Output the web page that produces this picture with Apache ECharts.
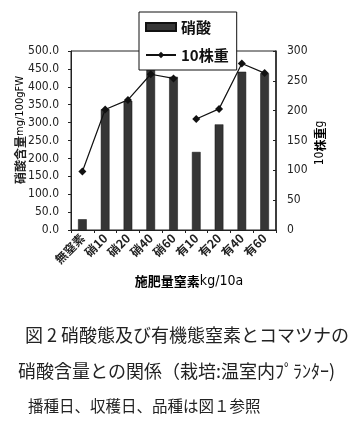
<!DOCTYPE html>
<html>
<head>
<meta charset="utf-8">
<script src="https://cdn.jsdelivr.net/npm/echarts@6/dist/echarts.min.js"></script>
<style>
html,body{margin:0;padding:0;background:#fff;}
#c{width:361px;height:431px;}
</style>
</head>
<body>
<div id="c"></div>
<script>
var categories = ['無窒素','硝10','硝20','硝40','硝60','有10','有20','有40','有60'];
var nitrate = [30, 337, 361, 452, 428, 218, 295, 442, 438];
var weightNitrateForm = [98, 202, 218, 261, 254, null, null, null, null];
var weightOrganicForm = [null, null, null, null, null, 186, 203, 279, 263];
var leftAxisRange = [0, 500, 50];
var rightAxisRange = [0, 300, 50];
var seriesNames = ['硝酸', '10株重'];
var leftAxisTitle = ['硝酸含量', 'mg/100gFW'];
var rightAxisTitle = ['10', '株重', 'g'];
var xAxisTitle = ['施肥量窒素', 'kg/10a'];
var captionLines = ['図 2 硝酸態及び有機態窒素とコマツナの', '硝酸含量との関係（栽培:温室内ﾌﾟﾗﾝﾀｰ)', '播種日、収穫日、品種は図１参照'];

var NARROW = "'Liberation Sans Narrow','Arial Narrow','DejaVu Sans Condensed','Liberation Sans',sans-serif";
var CJK = "'Noto Sans CJK JP','Liberation Sans',sans-serif";

var chart = echarts.init(document.getElementById('c'), null, {renderer: 'canvas'});
var option = {
  animation: false,
  backgroundColor: '#fff',
  grid: {left: 71, right: 85, top: 51, bottom: 201, show: true, borderColor: '#222', borderWidth: 1, backgroundColor: 'transparent'},
  legend: {
    orient: 'vertical', left: 139, top: 12,
    backgroundColor: '#fff', borderColor: '#111', borderWidth: 1,
    padding: [6, 8, 6, 6], itemGap: 10, itemWidth: 30, itemHeight: 8,
    textStyle: {fontFamily: CJK, fontSize: 15, color: '#111', fontWeight: 'bold', lineHeight: 18},
    data: [{name: seriesNames[0], icon: 'rect'}, {name: seriesNames[1]}]
  },
  xAxis: {
    type: 'category', data: categories,
    axisLine: {lineStyle: {color: '#222'}},
    axisTick: {show: true, length: 3, lineStyle: {color: '#222'}},
    axisLabel: {rotate: 45, margin: 6, fontFamily: CJK, fontSize: 12, fontWeight: 'bold', color: '#222', interval: 0}
  },
  yAxis: [{
    type: 'value', min: leftAxisRange[0], max: leftAxisRange[1], interval: leftAxisRange[2],
    position: 'left',
    splitLine: {show: false},
    axisLine: {show: true, lineStyle: {color: '#222'}},
    axisTick: {show: true, length: 3, lineStyle: {color: '#222'}},
    axisLabel: {margin: 12, fontFamily: NARROW, fontSize: 12, color: '#222', formatter: function (v) { return v.toFixed(1); }}
  }, {
    type: 'value', min: rightAxisRange[0], max: rightAxisRange[1], interval: rightAxisRange[2],
    position: 'right',
    splitLine: {show: false},
    axisLine: {show: true, lineStyle: {color: '#222', width: 1.5}},
    axisTick: {show: true, length: 3, inside: true, lineStyle: {color: '#222'}},
    axisLabel: {margin: 11, fontFamily: NARROW, fontSize: 12, color: '#222'}
  }],
  series: [{
    name: seriesNames[0], type: 'bar', yAxisIndex: 0, data: nitrate, barWidth: '38%',
    itemStyle: {color: '#363636', borderColor: '#111', borderWidth: 0.5}
  }, {
    name: seriesNames[1], type: 'line', yAxisIndex: 1, data: weightNitrateForm,
    symbol: 'diamond', symbolSize: 8, connectNulls: false,
    lineStyle: {color: '#111', width: 1.2}, itemStyle: {color: '#111'}
  }, {
    name: seriesNames[1], type: 'line', yAxisIndex: 1, data: weightOrganicForm,
    symbol: 'diamond', symbolSize: 8, connectNulls: false,
    lineStyle: {color: '#111', width: 1.2}, itemStyle: {color: '#111'}
  }],
  graphic: [
    {type: 'text', x: 20, y: 130, rotation: Math.PI / 2,
     style: {text: '{a|' + leftAxisTitle[0] + '}{b|' + leftAxisTitle[1] + '}', align: 'center', verticalAlign: 'middle',
       rich: {a: {fontFamily: CJK, fontSize: 12, fontWeight: 'bold', fill: '#222', color: '#222'},
              b: {fontFamily: NARROW, fontSize: 11, color: '#222'}}}},
    {type: 'text', x: 320, y: 143, rotation: Math.PI / 2,
     style: {text: '{b|' + rightAxisTitle[0] + '}{a|' + rightAxisTitle[1] + '}{b|' + rightAxisTitle[2] + '}', align: 'center', verticalAlign: 'middle',
       rich: {a: {fontFamily: CJK, fontSize: 12, fontWeight: 'bold', color: '#222'},
              b: {fontFamily: NARROW, fontSize: 12, color: '#222'}}}},
    {type: 'text', x: 189, y: 281,
     style: {text: '{a|' + xAxisTitle[0] + '}{b|' + xAxisTitle[1] + '}', align: 'center', verticalAlign: 'middle',
       rich: {a: {fontFamily: CJK, fontSize: 13, fontWeight: 'bold', color: '#222'},
              b: {fontFamily: NARROW, fontSize: 14, color: '#222'}}}},
    {type: 'text', x: 25, y: 335,
     style: {text: captionLines[0], fontFamily: CJK, fontSize: 18, fill: '#222', align: 'left', verticalAlign: 'middle'}},
    {type: 'text', x: 18, y: 371,
     style: {text: captionLines[1], fontFamily: CJK, fontSize: 18, fill: '#222', align: 'left', verticalAlign: 'middle'}},
    {type: 'text', x: 28, y: 406,
     style: {text: captionLines[2], fontFamily: CJK, fontSize: 15.5, fill: '#222', align: 'left', verticalAlign: 'middle'}}
  ]
};
chart.setOption(option);
</script>
</body>
</html>
